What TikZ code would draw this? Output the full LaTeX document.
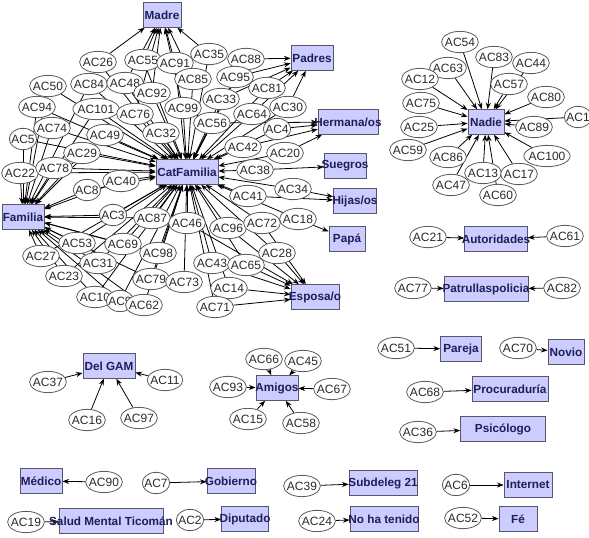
\documentclass[tikz,border=0pt]{standalone}
\usepackage{fontspec}
\newfontfamily\netfont{Liberation Sans}
\usetikzlibrary{arrows.meta,shapes.geometric,backgrounds}
\definecolor{boxfill}{HTML}{CCCCFF}
\definecolor{boxline}{HTML}{55556E}
\definecolor{boxtext}{HTML}{1E1E5A}
\definecolor{ellline}{HTML}{5A5A5A}
\definecolor{elltext}{HTML}{2A2A2A}
\tikzset{
  acnode/.style={ellipse, draw=ellline, fill=white, line width=0.6pt,
                 inner xsep=-1.5pt, inner ysep=2.3pt, minimum height=16pt,
                 text=elltext, font=\netfont\fontsize{9}{10}\selectfont},
  catbox/.style={draw=boxline, fill=boxfill, line width=0.6pt, minimum height=18.5pt,
                 inner sep=0pt, text=boxtext, font=\netfont\bfseries\fontsize{8.8}{10}\selectfont},
  arrow/.style={-{Stealth[length=5pt,width=3.8pt]}, line width=0.6pt, draw=black}
}
\begin{document}
\begin{tikzpicture}[x=0.75pt,y=-0.75pt]
        \useasboundingbox (0,0) rectangle (589,538);

        % category boxes (name/x/y/width/label)
        \foreach \n/\x/\y/\w/\t in {madre/162/15/38/Madre, padres/312/58/42/Padres,
            hermanas/348/122/60/{Hermana/os}, suegros/345/166/42/Suegros,
            hijas/355/201/43/{Hijas/os}, papa/347/239/36/Papá, esposa/315/297/48/{Esposa/o},
            catfam/187/172/62/CatFamilia, familia/23/217/42/Familia, nadie/486/122/36/Nadie,
            autor/496/239/63/Autoridades, patrulla/486/289/84/Patrullaspolicia,
            delgam/109/366/52/Del GAM, amigos/277/388/42/Amigos, medico/41/481/42/Médico,
            gobierno/231/481/48/Gobierno, salud/111/521/104/Salud Mental Ticomán,
            diputado/245/519/47/Diputado, pareja/461/349/41/Pareja, novio/566/352/36/Novio,
            procur/510/389/76/Procuraduría, psico/503/429/85/Psicólogo,
            subdel/383/483/68/Subdeleg 21, internet/528/485/48/Internet,
            notenido/384/519/68/No ha tenido, fe/518/519/38/Fé} {
          \node[catbox, minimum width=\w*0.75pt] (\n) at (\x,\y) {\makebox[0pt]{\t}};
        }

        % answer ellipses, main family cluster
        \foreach \n/\x/\y in {AC26/98/62, AC55/143/60, AC91/175/63, AC35/209/54, AC88/246/59,
            AC50/48/86, AC84/89/84, AC48/125/83, AC92/152/93, AC85/193/79, AC95/235/77, AC81/267/88,
            AC94/37/107, AC101/96/109, AC76/135/114, AC99/183/108, AC33/221/99, AC30/288/107,
            AC64/252/114, AC74/52/128, AC49/105/135, AC32/161/133, AC56/212/123, AC4/277/129,
            AC5/23/139, AC29/82/153, AC42/243/147, AC20/285/153, AC22/20/173, AC78/54/168,
            AC40/121/181, AC8/87/190, AC38/255/170, AC34/293/189, AC41/248/196, AC3/113/215,
            AC87/152/218, AC46/187/223, AC96/228/228, AC72/262/223, AC18/298/219, AC53/77/243,
            AC69/123/244, AC98/158/253, AC27/41/256, AC31/98/263, AC28/277/253, AC43/212/263,
            AC65/246/265, AC23/64/276, AC79/151/279, AC73/184/282, AC14/229/288, AC10/95/297,
            AC9/120/301, AC62/144/305, AC71/215/307} {
          \node[acnode] (\n) at (\x,\y) {\n};
        }

        % answer ellipses, Nadie cluster
        \foreach \n/\x/\y in {AC54/460/42, AC83/494/57, AC44/531/63, AC63/448/68, AC12/420/79,
            AC57/509/84, AC80/546/97, AC75/421/103, AC1/578/117, AC25/419/127, AC89/534/127,
            AC59/408/150, AC86/448/157, AC100/547/156, AC13/483/173, AC17/519/174,
            AC47/451/185, AC60/498/195} {
          \node[acnode] (\n) at (\x,\y) {\n};
        }

        % answer ellipses, small groups
        \foreach \n/\x/\y in {AC21/428/237, AC61/565/236, AC77/413/288, AC82/562/288,
            AC51/396/348, AC70/518/348, AC37/48/382, AC11/165/380, AC16/87/420, AC97/139/418,
            AC66/264/359, AC45/303/361, AC93/228/387, AC67/332/389, AC15/248/419, AC58/301/423,
            AC90/104/482, AC7/156/483, AC19/26/522, AC2/190/520, AC39/302/486, AC24/317/521,
            AC68/425/392, AC36/418/432, AC6/456/485, AC52/463/518} {
          \node[acnode] (\n) at (\x,\y) {\n};
        }

        \begin{scope}[on background layer]
          % every family answer points to CatFamilia
          \foreach \s in {AC26,AC55,AC91,AC35,AC88,AC50,AC84,AC48,AC92,AC85,AC95,AC81,AC94,
              AC101,AC76,AC99,AC33,AC30,AC64,AC74,AC49,AC32,AC56,AC4,AC5,AC29,AC42,AC20,AC22,
              AC78,AC40,AC8,AC38,AC34,AC41,AC3,AC87,AC46,AC96,AC72,AC18,AC53,AC69,AC98,AC27,
              AC31,AC28,AC43,AC65,AC23,AC79,AC73,AC14,AC10,AC9,AC62,AC71}
            \draw[arrow] (\s) -- (catfam);
          % and to the specific relative
          \foreach \t/\srcs in {madre/{AC26,AC55,AC91,AC35,AC48,AC92,AC85,AC99,AC76},
              padres/{AC88,AC95,AC81,AC30,AC33,AC64},
              hermanas/{AC4,AC20,AC42,AC56},
              suegros/{AC38}, hijas/{AC34,AC41}, papa/{AC18},
              esposa/{AC14,AC71,AC65,AC28,AC96,AC72,AC43,AC46},
              familia/{AC50,AC94,AC74,AC5,AC22,AC78,AC29,AC8,AC3,AC53,AC27,AC23,AC31,AC10,
                       AC9,AC62,AC69,AC101,AC49,AC84,AC40,AC87,AC98,AC79},
              nadie/{AC54,AC83,AC44,AC63,AC12,AC57,AC80,AC75,AC1,AC25,AC89,AC59,AC86,AC100,
                     AC13,AC17,AC47,AC60},
              autor/{AC21,AC61}, patrulla/{AC77,AC82}, pareja/{AC51}, novio/{AC70},
              delgam/{AC37,AC11,AC16,AC97}, amigos/{AC66,AC45,AC93,AC67,AC15,AC58},
              medico/{AC90}, gobierno/{AC7}, salud/{AC19}, diputado/{AC2},
              subdel/{AC39}, notenido/{AC24}, procur/{AC68}, psico/{AC36},
              internet/{AC6}, fe/{AC52}} {
            \foreach \s in \srcs
              \draw[arrow] (\s) -- (\t);
          }
        \end{scope}
      \end{tikzpicture}
\end{document}
